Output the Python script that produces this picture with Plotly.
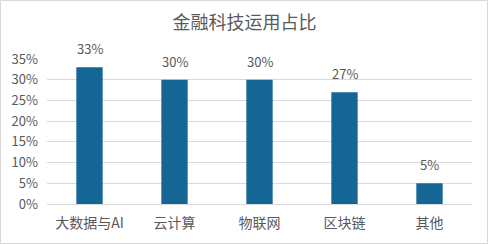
import plotly.graph_objects as go

# Share of fintech applications
categories = ["大数据与AI", "云计算", "物联网", "区块链", "其他"]
shares = [0.33, 0.30, 0.30, 0.27, 0.05]
tick_values = [0, 0.05, 0.10, 0.15, 0.20, 0.25, 0.30, 0.35]
tick_labels = ["0%", "5%", "10%", "15%", "20%", "25%", "30%", "35%"]

W, H = 489, 245
ML, MR, MT, MB = 47, 17, 59, 41
PW, PH = W - ML - MR, H - MT - MB

TEXT = "#595959"
GRID = "#d9d9d9"
BAR = "#156595"
FONT = "Noto Sans CJK SC, Liberation Sans, sans-serif"

fig = go.Figure()
fig.add_trace(go.Bar(
    x=categories, y=shares,
    marker=dict(color=BAR, line=dict(width=0)),
    width=0.31,
    hoverinfo="skip",
))

# value labels above each bar
for c, v in zip(categories, shares):
    fig.add_annotation(
        x=c, y=v, text=f"{round(v * 100)}%",
        showarrow=False, yanchor="bottom", yshift=7,
        font=dict(family=FONT, size=13, color=TEXT),
    )

# outer chart frame
fig.add_shape(
    type="rect", xref="paper", yref="paper",
    x0=(0.5 - ML) / PW, x1=(W - 1.5 - ML) / PW,
    y0=-(MB - 1.5) / PH, y1=(PH + MT - 0.5) / PH,
    line=dict(color=GRID, width=1), fillcolor="rgba(0,0,0,0)",
)

fig.update_layout(
    width=W, height=H,
    margin=dict(l=ML, r=MR, t=MT, b=MB),
    paper_bgcolor="white", plot_bgcolor="white",
    showlegend=False,
    bargap=0.69,
    title=dict(
        text="金融科技运用占比", x=0.5, xanchor="center",
        y=1 - 23 / H, yanchor="middle", yref="container",
        font=dict(family=FONT, size=18, color=TEXT),
    ),
    xaxis=dict(
        showline=True, linecolor=GRID, linewidth=1,
        showgrid=False, ticks="", zeroline=False,
        ticklabelstandoff=6,
        tickfont=dict(family=FONT, size=14, color=TEXT),
    ),
    yaxis=dict(
        range=[0, 0.35], tickvals=tick_values, ticktext=tick_labels,
        showgrid=True, gridcolor=GRID, gridwidth=1,
        showline=False, zeroline=False, ticks="",
        ticklabelstandoff=8,
        tickfont=dict(family=FONT, size=13, color=TEXT),
    ),
)

fig.write_html("out.html")
